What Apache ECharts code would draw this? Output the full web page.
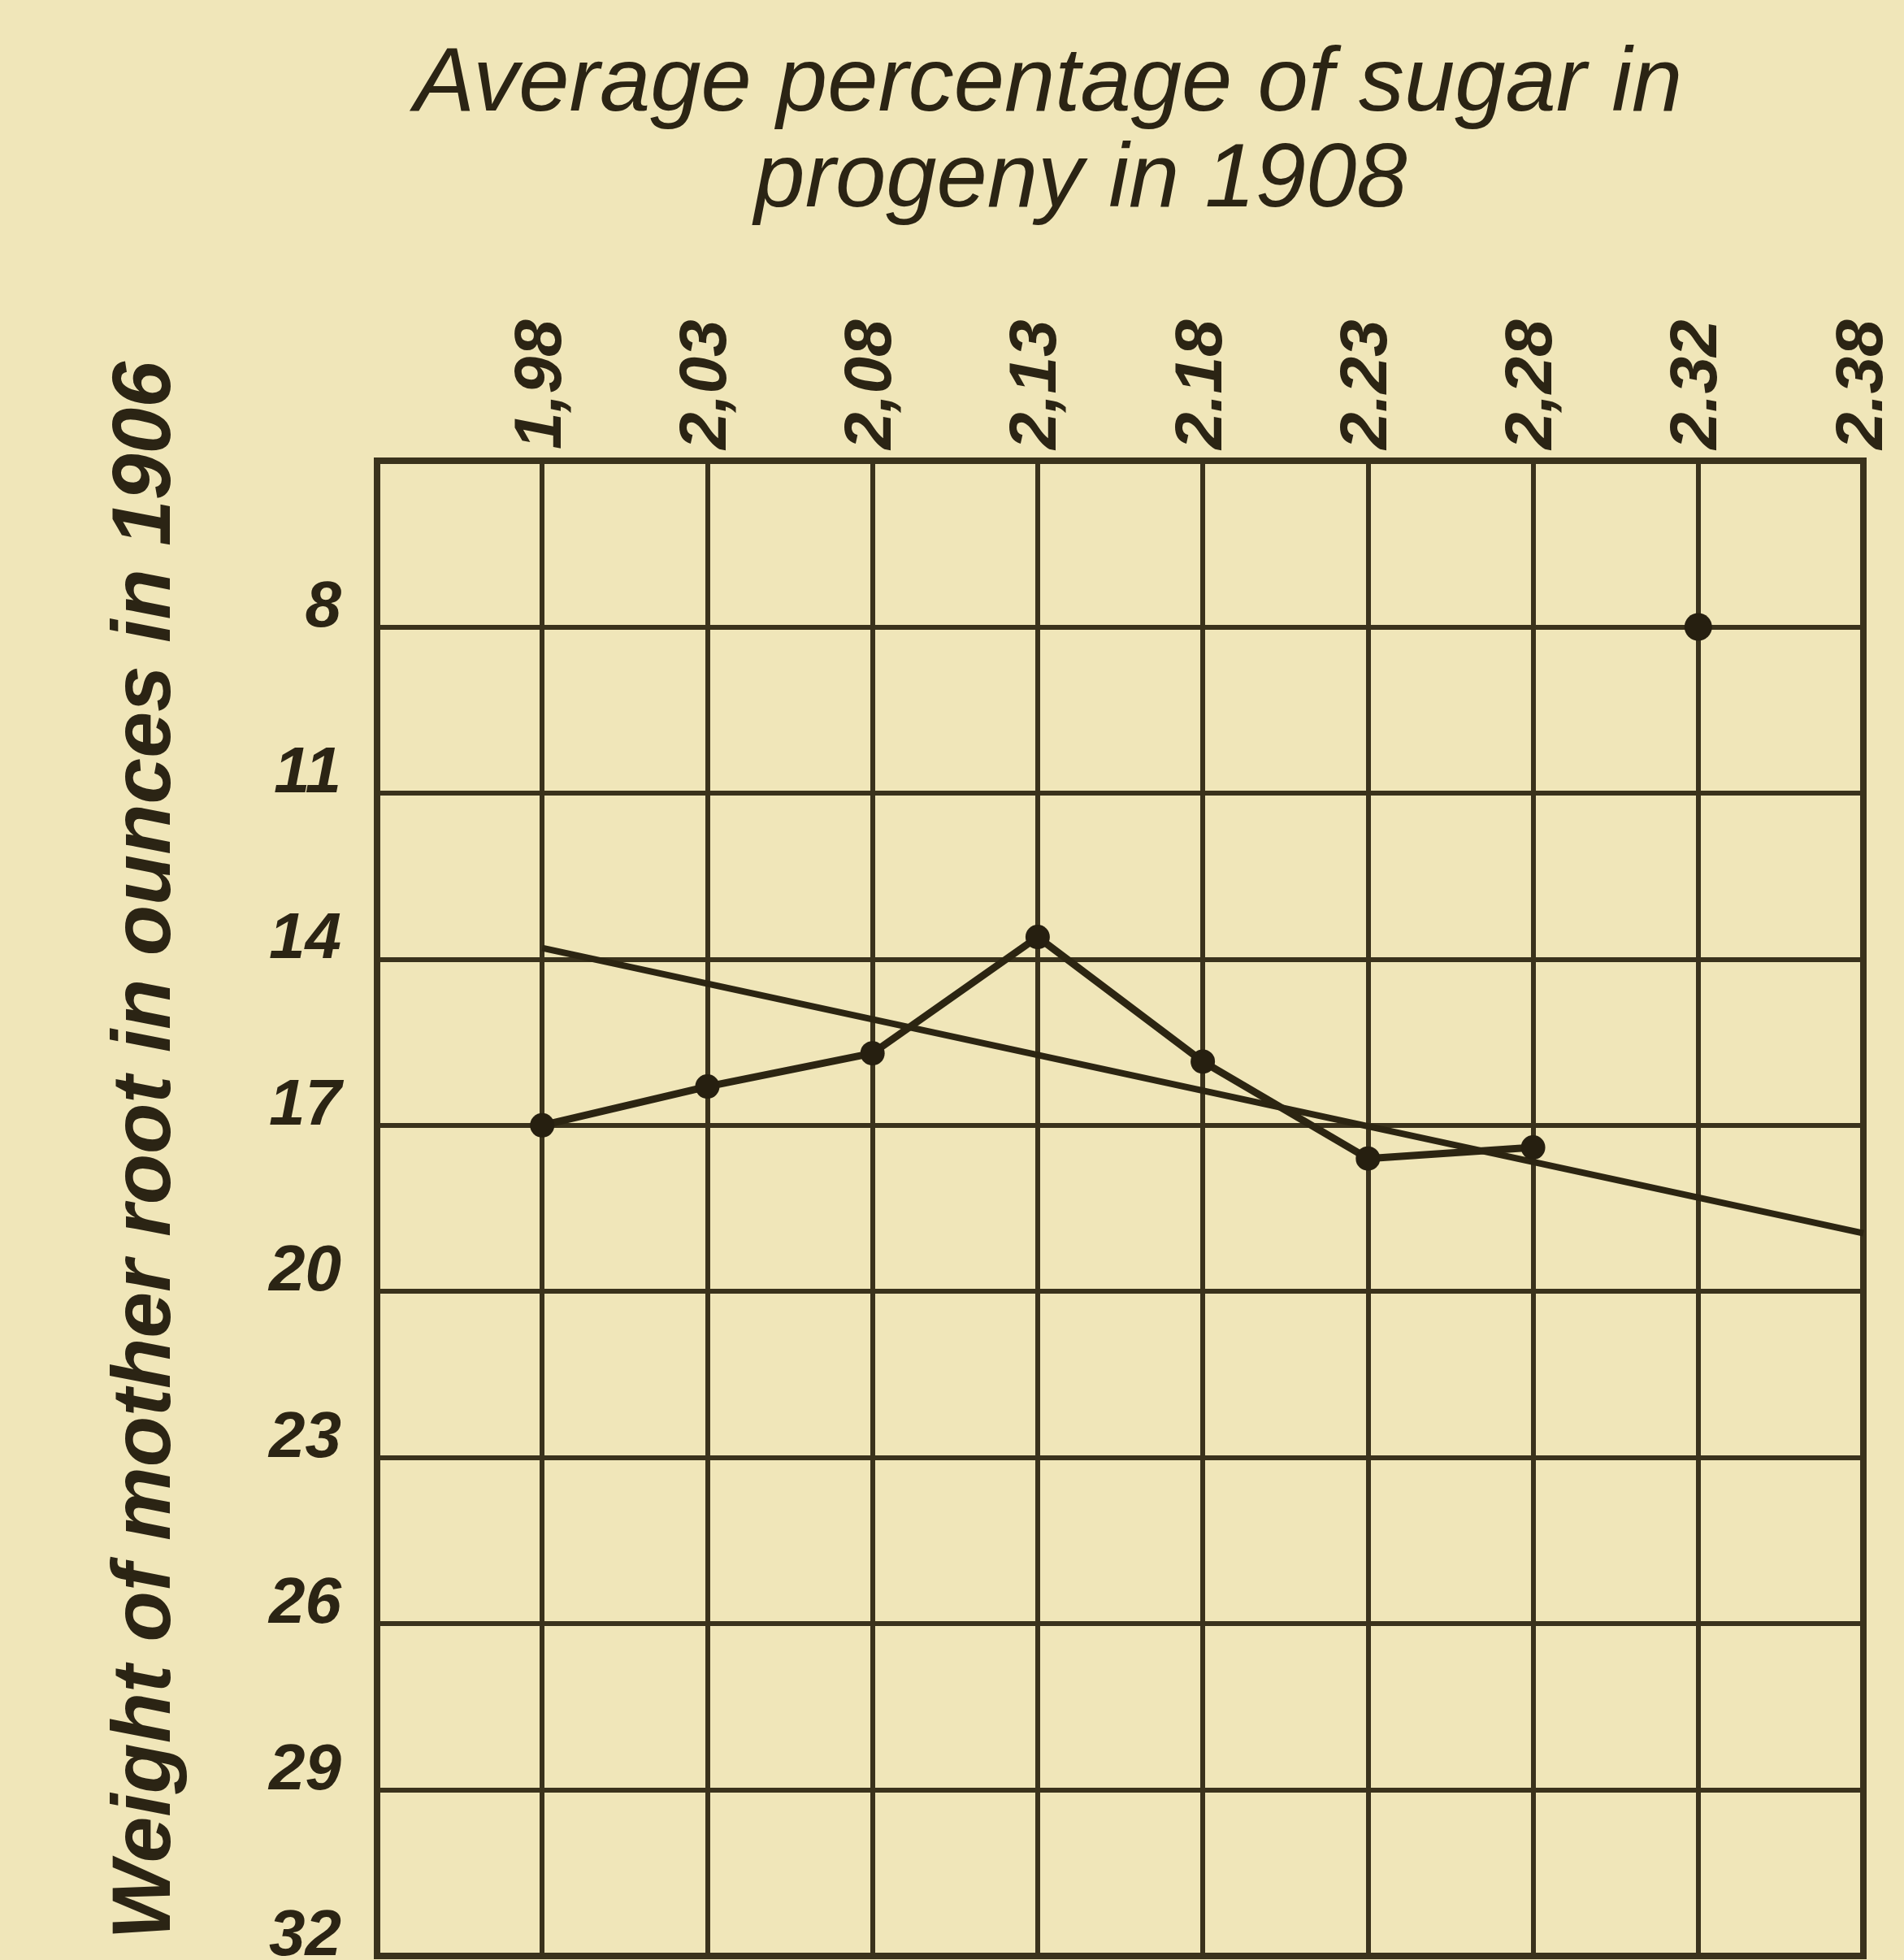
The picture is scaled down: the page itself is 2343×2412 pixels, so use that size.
<!DOCTYPE html>
<html>
<head>
<meta charset="utf-8">
<script src="https://cdn.jsdelivr.net/npm/echarts/dist/echarts.min.js"></script>
<style>
  html, body { margin: 0; padding: 0; background: #f0e6b9; }
  #chart { width: 2343px; height: 2412px; }
</style>
</head>
<body>
<div id="chart"></div>
<script>
// ---- data ----
const sugarTicks = ['', '1,98', '2,03', '2,08', '2,13', '2.18', '2.23', '2,28', '2.32', '2.38'];
const weightTicks = [8, 11, 14, 17, 20, 23, 26, 29, 32];
const weightMin = 5;
const weightMax = 32;
const weightStep = 3;

const progenyCats = ['1,98', '2,03', '2,08', '2,13', '2.18', '2.23', '2,28'];
const progenyWeights = [17, 16.3, 15.7, 13.6, 15.85, 17.6, 17.4];

const isolatedCats = ['2.32'];
const isolatedWeights = [8];

const trendCats = ['1,98', '2.38'];
const trendWeights = [13.8, 18.95];

const titleLine1 = 'Average percentage of sugar in';
const titleLine2 = 'progeny in 1908';
const yAxisName = 'Weight of mother root in ounces in 1906';

// ---- styling ----
const ink = '#2b2414';
const lineInk = '#3a321c';
const paper = '#f0e6b9';
const font = "'Liberation Sans', Arial, sans-serif";

const chart = echarts.init(document.getElementById('chart'), null, { renderer: 'canvas' });

chart.setOption({
  animation: false,
  backgroundColor: paper,
  title: [
    {
      text: titleLine1, left: 1285, top: 44, textAlign: 'center',
      textStyle: { fontFamily: font, fontSize: 112, fontStyle: 'italic', fontWeight: 'normal', color: ink, lineHeight: 112 }
    },
    {
      text: titleLine2, left: 1325, top: 162, textAlign: 'center',
      textStyle: { fontFamily: font, fontSize: 112, fontStyle: 'italic', fontWeight: 'normal', color: ink, lineHeight: 112 }
    }
  ],
  grid: {
    left: 464, top: 567, right: 50, bottom: 5,
    show: true, borderColor: lineInk, borderWidth: 8, backgroundColor: 'transparent',
    containLabel: false,
    outerBoundsMode: 'none'
  },
  xAxis: {
    type: 'category',
    position: 'top',
    boundaryGap: false,
    data: sugarTicks,
    axisLine: { show: true, lineStyle: { color: lineInk, width: 8 } },
    axisTick: { show: false },
    axisLabel: {
      interval: 0, rotate: -90, margin: 14,
      fontFamily: font, fontSize: 82, fontWeight: 'bold', fontStyle: 'italic', color: ink
    },
    splitLine: { show: true, interval: 0, lineStyle: { color: lineInk, width: 6 } }
  },
  yAxis: {
    type: 'value',
    inverse: true,
    min: weightMin, max: weightMax, interval: weightStep,
    name: yAxisName,
    nameLocation: 'middle',
    nameRotate: 90,
    nameGap: 232,
    nameTextStyle: {
      fontFamily: font, fontSize: 102, fontStyle: 'italic', fontWeight: 'bold', color: ink,
      padding: [0, 0, 0, 142]
    },
    axisLine: { show: true, lineStyle: { color: lineInk, width: 8 } },
    axisTick: { show: false },
    axisLabel: {
      margin: 44,
      verticalAlign: 'bottom',
      lineHeight: 46,
      fontFamily: font, fontSize: 80, fontWeight: 'bold', fontStyle: 'italic', color: ink,
      formatter: v => (weightTicks.indexOf(v) >= 0 ? String(v) : '')
    },
    splitLine: { show: true, lineStyle: { color: lineInk, width: 6 } }
  },
  series: [
    {
      name: 'Progeny sugar',
      type: 'line',
      data: progenyCats.map((c, i) => [c, progenyWeights[i]]),
      symbol: 'circle', symbolSize: 30,
      itemStyle: { color: '#261f10', opacity: 1 },
      lineStyle: { color: '#2c2512', width: 9 },
      z: 5
    },
    {
      name: 'Isolated point',
      type: 'scatter',
      data: isolatedCats.map((c, i) => [c, isolatedWeights[i]]),
      symbol: 'circle', symbolSize: 34,
      itemStyle: { color: '#261f10', opacity: 1 },
      z: 6
    },
    {
      name: 'Trend',
      type: 'line',
      data: trendCats.map((c, i) => [c, trendWeights[i]]),
      showSymbol: false,
      lineStyle: { color: '#2c2512', width: 8 },
      z: 4
    }
  ]
});
</script>
</body>
</html>
